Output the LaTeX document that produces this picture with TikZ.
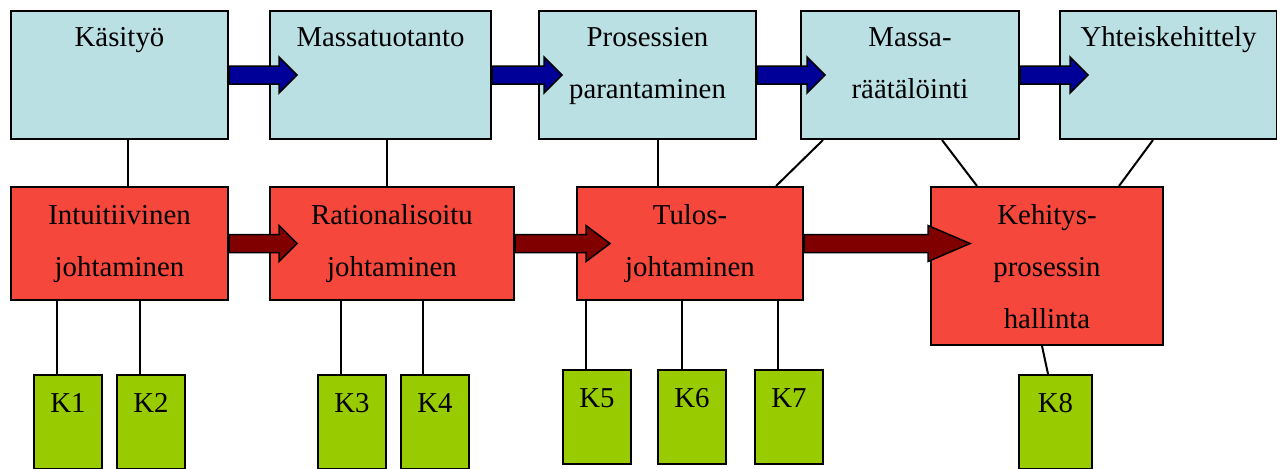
\documentclass[tikz,border=0pt]{standalone}
\usepackage{fontspec}
\setmainfont{Liberation Serif}
\usetikzlibrary{calc}

\definecolor{stagefill}{HTML}{BBE0E3}
\definecolor{leadfill}{HTML}{F5473B}
\definecolor{kfill}{HTML}{99CC00}
\definecolor{stagearrow}{HTML}{000099}
\definecolor{leadarrow}{HTML}{800000}

% block arrow: [head length]{start}{target node west}{overshoot}{style}
\newcommand{\fatarrow}[5][9pt]{%
  \filldraw[#5] let \p1=(#2), \p2=($(#3)+(#4,0)$) in
    (\x1,\y1+4.5pt) -- (\x2-#1,\y1+4.5pt) -- (\x2-#1,\y1+9pt) -- (\x2,\y1)
    -- (\x2-#1,\y1-9pt) -- (\x2-#1,\y1-4.5pt) -- (\x1,\y1-4.5pt) -- cycle;}

\begin{document}
\begin{tikzpicture}[x=0.5pt, y=-0.5pt,
  box/.style={draw, line width=1pt, inner sep=0pt, anchor=north west, align=center,
    font=\fontsize{14.4}{26}\selectfont},
  stagebox/.style={box, fill=stagefill, minimum width=108.5pt, minimum height=64pt,
    text height=17.75pt, text depth=46.25pt},
  stagebox2/.style={stagebox, text height=43.75pt, text depth=20.25pt},
  leadbox/.style={box, fill=leadfill, minimum height=56.5pt,
    text height=44.75pt, text depth=11.75pt},
  kbox/.style={box, fill=kfill, minimum width=34pt, minimum height=47pt,
    text height=18.5pt, text depth=28.5pt},
  link/.style={line width=1pt},
  stagearr/.style={fill=stagearrow, draw=black, line width=0.75pt},
  leadarr/.style={fill=leadarrow, draw=black, line width=0.75pt}]
\useasboundingbox (0,0) rectangle (1277,468);

% Top row: stages
\node[stagebox] (kasityo) at (10,10) {Käsityö};
\node[stagebox, minimum width=110.5pt] (massat) at (269,10) {Massatuotanto};
\node[stagebox2] (prosessi) at (538,10) {Prosessien\\parantaminen};
\node[stagebox2, minimum width=109pt] (massar) at (800,10) {Massa-\\räätälöinti};
\node[stagebox] (yhteis) at (1059,10) {Yhteiskehittely};

% Middle row: management
\node[leadbox, minimum width=108.5pt] (intuit) at (10,186) {Intuitiivinen\\johtaminen};
\node[leadbox, minimum width=122pt] (ration) at (269,186) {Rationalisoitu\\johtaminen};
\node[leadbox, minimum width=113pt] (tulos) at (576,186) {Tulos-\\johtaminen};
\node[leadbox, minimum width=116pt, minimum height=79pt,
  text height=70.75pt, text depth=8.25pt]
  (kehitys) at (930,186) {Kehitys-\\prosessin\\hallinta};

% Bottom row
\node[kbox] (k1) at (33,374) {K1};
\node[kbox] (k2) at (116,374) {K2};
\node[kbox] (k3) at (317,374) {K3};
\node[kbox] (k4) at (400,374) {K4};
\node[kbox] (k5) at (562,369) {K5};
\node[kbox] (k6) at (657,369) {K6};
\node[kbox] (k7) at (754,369) {K7};
\node[kbox, minimum width=36.5pt] (k8) at (1018,374) {K8};

% Stage arrows
\fatarrow{kasityo.east}{massat.west}{28}{stagearr}
\fatarrow{massat.east}{prosessi.west}{24}{stagearr}
\fatarrow{prosessi.east}{massar.west}{25}{stagearr}
\fatarrow{massar.east}{yhteis.west}{29}{stagearr}

% Management arrows
\fatarrow{intuit.east}{ration.west}{28}{leadarr}
\fatarrow[12pt]{ration.east}{tulos.west}{34}{leadarr}
\fatarrow[21pt]{tulos.east}{kehitys.west}{40}{leadarr}

% Stage to management
\draw[link] ($(kasityo.south west)+(118,0)$) -- ($(intuit.north west)+(118,0)$);
\draw[link] ($(massat.south west)+(118,0)$) -- ($(ration.north west)+(118,0)$);
\draw[link] ($(prosessi.south west)+(120,0)$) -- ($(tulos.north west)+(82,0)$);
\draw[link] ($(massar.south west)+(23,0)$) -- ($(tulos.north west)+(200,0)$);
\draw[link] ($(massar.south west)+(142,0)$) -- ($(kehitys.north west)+(47,0)$);
\draw[link] ($(yhteis.south west)+(94,0)$) -- ($(kehitys.north west)+(189,0)$);

% Management to K
\draw[link] ($(intuit.south west)+(47,0)$) -- ($(k1.north west)+(24,0)$);
\draw[link] ($(intuit.south west)+(130,0)$) -- ($(k2.north west)+(24,0)$);
\draw[link] ($(ration.south west)+(72,0)$) -- ($(k3.north west)+(24,0)$);
\draw[link] ($(ration.south west)+(154,0)$) -- ($(k4.north west)+(23,0)$);
\draw[link] ($(tulos.south west)+(10,0)$) -- ($(k5.north west)+(24,0)$);
\draw[link] ($(tulos.south west)+(106,0)$) -- ($(k6.north west)+(25,0)$);
\draw[link] ($(tulos.south west)+(202,0)$) -- ($(k7.north west)+(24,0)$);
\draw[link] ($(kehitys.south west)+(112,0)$) -- ($(k8.north west)+(30,0)$);

\end{tikzpicture}
\end{document}
